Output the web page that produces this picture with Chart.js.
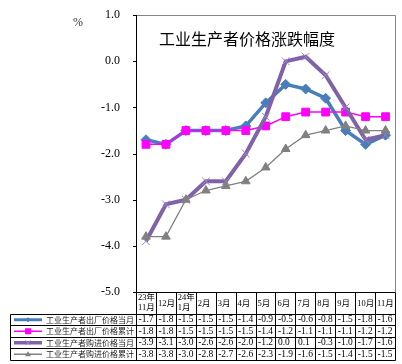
<!DOCTYPE html>
<html><head><meta charset="utf-8">
<script src="https://cdn.jsdelivr.net/npm/chart.js@4/dist/chart.umd.min.js"></script>
<style>html,body{margin:0;padding:0;background:#fff}#wrap{width:402px;height:364px;position:relative}</style>
</head><body><div id="wrap"><canvas id="c" width="402" height="364"></canvas></div>
<script>
const categories = [["23年","11月"],"12月",["24年","1月"],"2月","3月","4月","5月","6月","7月","8月","9月","10月","11月"];
const seriesNames = ["工业生产者出厂价格当月","工业生产者出厂价格累计","工业生产者购进价格当月","工业生产者购进价格累计"];
const outMonth = [-1.7,-1.8,-1.5,-1.5,-1.5,-1.4,-0.9,-0.5,-0.6,-0.8,-1.5,-1.8,-1.6];
const outCum   = [-1.8,-1.8,-1.5,-1.5,-1.5,-1.5,-1.4,-1.2,-1.1,-1.1,-1.1,-1.2,-1.2];
const inMonth  = [-3.9,-3.1,-3.0,-2.6,-2.6,-2.0,-1.2,0.0,0.1,-0.3,-1.0,-1.7,-1.6];
const inCum    = [-3.8,-3.8,-3.0,-2.8,-2.7,-2.6,-2.3,-1.9,-1.6,-1.5,-1.4,-1.5,-1.5];
const yTicks = [1,0,-1,-2,-3,-4,-5];
const titleText = "工业生产者价格涨跌幅度";
const unitText = "%";

const seriesValues = [outMonth,outCum,inMonth,inCum];
const colors = ["#4A7EBB","#FF00FF","#7F62A8","#808080"];
const lineWidths = [3.5,1.5,4,1.3];
const pointStyles = ["rectRot","rect","crossRot","triangle"];
const pointRadii = [5,5.5,5.5,5];
const pointColors = ["#4A7EBB","#FF00FF","#9A86C8","#808080"];
const orders = [3,2,1,0];

const extras = {
  id:'extras',
  beforeDatasetsDraw(chart){
    const {ctx, chartArea:a, scales:{y}} = chart;
    ctx.save();
    ctx.strokeStyle = '#868686'; ctx.lineWidth = 1;
    ctx.beginPath();
    ctx.moveTo(Math.round(a.left)+0.5, Math.round(a.top)+0.5);
    ctx.lineTo(Math.round(a.right)-0.5, Math.round(a.top)+0.5);
    ctx.lineTo(Math.round(a.right)-0.5, Math.round(a.bottom));
    ctx.stroke();
    ctx.strokeStyle = '#000';
    ctx.beginPath();
    ctx.moveTo(Math.round(a.left)+0.5, Math.round(a.top));
    ctx.lineTo(Math.round(a.left)+0.5, Math.round(a.bottom));
    ctx.stroke();
    yTicks.forEach(v=>{
      const py = Math.round(y.getPixelForValue(v))+0.5;
      ctx.beginPath(); ctx.moveTo(a.left-3, py); ctx.lineTo(a.left+1, py); ctx.stroke();
    });
    ctx.fillStyle = '#000';
    ctx.font = '16px "Noto Sans CJK SC"';
    ctx.textAlign = 'center'; ctx.textBaseline = 'middle';
    ctx.fillText(titleText, 247, 39);
    ctx.font = '12px "Liberation Serif"';
    ctx.fillStyle = '#333';
    ctx.fillText(unitText, 78, 23);
    ctx.restore();
  },
  afterDraw(chart){
    const {ctx, chartArea:a} = chart;
    const n = categories.length;
    const L = Math.round(a.left)+0.5, R = Math.round(a.right)-0.5;
    const colW = (R - L)/n;
    const top = Math.round(a.bottom)+0.5;
    const headB = top + 21;
    const rowH = 11.5;
    const bottom = headB + rowH*4;
    const tl = 10.5;
    ctx.save();
    ctx.strokeStyle = '#000'; ctx.lineWidth = 1;
    ctx.beginPath();
    ctx.moveTo(L, top); ctx.lineTo(R, top);
    for (let i=0;i<=n;i++){
      const xx = Math.round(L + colW*i - 0.5)+0.5;
      ctx.moveTo(xx, top); ctx.lineTo(xx, Math.round(bottom)+0.5);
    }
    for (let r=0;r<=4;r++){
      const yy = Math.round(headB + rowH*r)+0.5;
      ctx.moveTo(tl, yy); ctx.lineTo(R, yy);
    }
    ctx.moveTo(tl, Math.round(headB)+0.5); ctx.lineTo(tl, Math.round(bottom)+0.5);
    ctx.stroke();
    // header
    ctx.fillStyle = '#000';
    ctx.textBaseline = 'middle'; ctx.textAlign = 'left';
    ctx.font = '8.5px "Liberation Serif", "Noto Sans CJK SC"';
    categories.forEach((c,i)=>{
      const x0 = L + colW*i + 1.5;
      if (Array.isArray(c)){
        ctx.fillText(c[0], x0, top + 5.5);
        ctx.fillText(c[1], x0, top + 15);
      } else {
        ctx.fillText(c, x0, top + 11);
      }
    });
    // rows
    seriesValues.forEach((vals,r)=>{
      const cy = headB + rowH*r + rowH/2 + 0.5;
      ctx.font = '9.5px "Liberation Serif"';
      ctx.fillStyle = '#000';
      vals.forEach((v,i)=>{
        ctx.fillText(v.toFixed(1), L + colW*i + 2, cy);
      });
      ctx.font = '8px "Noto Sans CJK SC"';
      ctx.fillStyle = '#222';
      ctx.fillText(seriesNames[r], 46, cy);
      // key
      ctx.strokeStyle = colors[r];
      ctx.lineWidth = [3,1.5,3.5,1.5][r];
      ctx.beginPath(); ctx.moveTo(14, cy); ctx.lineTo(42, cy); ctx.stroke();
      const mx = 28;
      ctx.fillStyle = pointColors[r];
      ctx.strokeStyle = pointColors[r];
      ctx.lineWidth = 1;
      ctx.beginPath();
      if (r===0){ ctx.moveTo(mx,cy-2.5);ctx.lineTo(mx+2.5,cy);ctx.lineTo(mx,cy+2.5);ctx.lineTo(mx-2.5,cy);ctx.closePath();ctx.fill(); }
      else if (r===1){ ctx.fillRect(mx-3,cy-3,6,6); }
      else if (r===2){ ctx.moveTo(mx-2.5,cy-2.5);ctx.lineTo(mx+2.5,cy+2.5);ctx.moveTo(mx+2.5,cy-2.5);ctx.lineTo(mx-2.5,cy+2.5);ctx.stroke(); }
      else { ctx.moveTo(mx,cy-3);ctx.lineTo(mx+3,cy+2);ctx.lineTo(mx-3,cy+2);ctx.closePath();ctx.fill(); }
    });
    ctx.restore();
  }
};

new Chart(document.getElementById('c'), {
  type:'line',
  data:{
    labels: categories,
    datasets: seriesNames.map((name,i)=>({
      label:name,
      data:seriesValues[i],
      borderColor:colors[i],
      backgroundColor:pointColors[i],
      borderWidth:lineWidths[i],
      pointStyle:pointStyles[i],
      pointRadius:pointRadii[i],
      pointBorderColor:pointColors[i],
      pointBackgroundColor:pointColors[i],
      pointBorderWidth:1,
      tension:0,
      order:orders[i],
      fill:false
    }))
  },
  options:{
    responsive:false,
    animation:false,
    events:[],
    layout:{padding:{left:0,right:2,top:11,bottom:72}},
    plugins:{legend:{display:false},tooltip:{enabled:false},title:{display:false}},
    scales:{
      x:{display:false, offset:true},
      y:{
        min:-5,max:1,
        grid:{display:false},
        border:{display:false},
        afterFit(s){ s.width = 136; },
        ticks:{stepSize:1,padding:8,color:'#000',font:{family:'Liberation Serif',size:12},
          callback:v=>Number(v).toFixed(1)}
      }
    }
  },
  plugins:[extras]
});
</script></body></html>
